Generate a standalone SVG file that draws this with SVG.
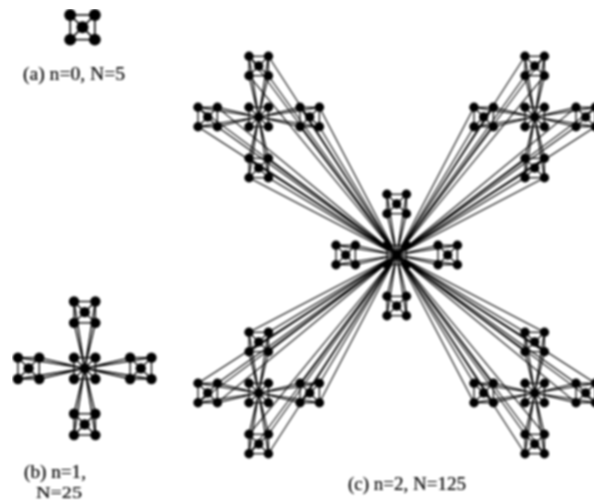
<svg xmlns="http://www.w3.org/2000/svg" width="594" height="502" viewBox="0 0 594 502">
<style>
.e{stroke:#000;stroke-width:1.2;fill:none}
.s{stroke:#000;stroke-width:1.25;fill:none}
.h{stroke:#000;stroke-width:1.05;fill:none}
.n{fill:#000}
text{font-family:"Liberation Serif","Times New Roman",serif;font-size:18px;fill:#000;stroke:#000;stroke-width:.2}
</style>
<defs>
<filter id="soft" x="0" y="0" width="100%" height="100%" filterUnits="objectBoundingBox"><feGaussianBlur stdDeviation="0.85"/></filter>
<g id="m">
<rect class="e" x="-9.7" y="-9.7" width="19.4" height="19.4"/>
<path class="e" d="M-9.7-9.7L9.7 9.7M9.7-9.7L-9.7 9.7"/>
<circle class="n" cx="-9.7" cy="-9.7" r="4.7"/><circle class="n" cx="9.7" cy="-9.7" r="4.7"/>
<circle class="n" cx="-9.7" cy="9.7" r="4.7"/><circle class="n" cx="9.7" cy="9.7" r="4.7"/>
<circle class="n" cx="0" cy="0" r="4.7"/>
</g>
<g id="sp4">
<path class="s" d="M0 0L-9.7-60.7M0 0L9.7-60.7M0 0L-9.7-41.3M0 0L9.7-41.3"/>
</g>
<g id="sp16">
<use href="#sp4"/><use href="#sp4" transform="rotate(90)"/><use href="#sp4" transform="rotate(180)"/><use href="#sp4" transform="rotate(270)"/>
</g>
<g id="arm">
<path class="h" d="M0 0L-147.7-198.7M0 0L-128.3-198.7M0 0L-147.7-179.3M0 0L-128.3-179.3
M0 0L-198.7-147.7M0 0L-179.3-147.7M0 0L-198.7-128.3M0 0L-179.3-128.3
M0 0L-96.7-147.7M0 0L-77.3-147.7M0 0L-96.7-128.3M0 0L-77.3-128.3
M0 0L-147.7-96.7M0 0L-128.3-96.7M0 0L-147.7-77.3M0 0L-128.3-77.3"/>
</g>
</defs>
<rect width="594" height="502" fill="#fff"/>
<g filter="url(#soft)">
<g id="connectors">
<g id="connectors-b" transform="translate(84.7 368.3) scale(1.1)"><use href="#sp16"/></g>
<g id="connectors-c" transform="translate(396.7 255)">
<use href="#sp16"/>
<use href="#arm"/><use href="#arm" transform="scale(-1 1)"/><use href="#arm" transform="scale(1 -1)"/><use href="#arm" transform="scale(-1 -1)"/>
<use href="#sp16" transform="translate(-138 -138)"/>
<use href="#sp16" transform="translate(138 -138)"/>
<use href="#sp16" transform="translate(-138 138)"/>
<use href="#sp16" transform="translate(138 138)"/>
</g>
</g>
<g id="a-module"><use href="#m" transform="translate(82.5 27.3) scale(1.27)"/></g>
<g id="b-center"><use href="#m" transform="translate(84.7 368.3) scale(1.1)"/></g>
<g id="b-top"><use href="#m" transform="translate(84.7 312.2) scale(1.1)"/></g>
<g id="b-left"><use href="#m" transform="translate(28.6 368.3) scale(1.1)"/></g>
<g id="b-right"><use href="#m" transform="translate(140.8 368.3) scale(1.1)"/></g>
<g id="b-bottom"><use href="#m" transform="translate(84.7 424.4) scale(1.1)"/></g>
<g id="c-hub-center"><use href="#m" transform="translate(396.7 255)"/></g>
<g id="c-hub-top"><use href="#m" transform="translate(396.7 204)"/></g>
<g id="c-hub-left"><use href="#m" transform="translate(345.7 255)"/></g>
<g id="c-hub-right"><use href="#m" transform="translate(447.7 255)"/></g>
<g id="c-hub-bottom"><use href="#m" transform="translate(396.7 306)"/></g>
<g id="c-ul-center"><use href="#m" transform="translate(258.7 117)"/></g>
<g id="c-ul-top"><use href="#m" transform="translate(258.7 66)"/></g>
<g id="c-ul-left"><use href="#m" transform="translate(207.7 117)"/></g>
<g id="c-ul-right"><use href="#m" transform="translate(309.7 117)"/></g>
<g id="c-ul-bottom"><use href="#m" transform="translate(258.7 168)"/></g>
<g id="c-ur-center"><use href="#m" transform="translate(534.7 117)"/></g>
<g id="c-ur-top"><use href="#m" transform="translate(534.7 66)"/></g>
<g id="c-ur-left"><use href="#m" transform="translate(483.7 117)"/></g>
<g id="c-ur-right"><use href="#m" transform="translate(585.7 117)"/></g>
<g id="c-ur-bottom"><use href="#m" transform="translate(534.7 168)"/></g>
<g id="c-ll-center"><use href="#m" transform="translate(258.7 393)"/></g>
<g id="c-ll-top"><use href="#m" transform="translate(258.7 342)"/></g>
<g id="c-ll-left"><use href="#m" transform="translate(207.7 393)"/></g>
<g id="c-ll-right"><use href="#m" transform="translate(309.7 393)"/></g>
<g id="c-ll-bottom"><use href="#m" transform="translate(258.7 444)"/></g>
<g id="c-lr-center"><use href="#m" transform="translate(534.7 393)"/></g>
<g id="c-lr-top"><use href="#m" transform="translate(534.7 342)"/></g>
<g id="c-lr-left"><use href="#m" transform="translate(483.7 393)"/></g>
<g id="c-lr-right"><use href="#m" transform="translate(585.7 393)"/></g>
<g id="c-lr-bottom"><use href="#m" transform="translate(534.7 444)"/></g>
<g id="labels">
<text x="23" y="79.5" textLength="102" lengthAdjust="spacingAndGlyphs">(a) n=0, N=5</text>
<text x="24" y="478" textLength="62" lengthAdjust="spacingAndGlyphs">(b) n=1,</text>
<text x="36" y="498" style="font-size:17px" textLength="46" lengthAdjust="spacingAndGlyphs">N=25</text>
<text x="348" y="490" textLength="118" lengthAdjust="spacingAndGlyphs">(c) n=2, N=125</text>
</g>
</g>
</svg>
